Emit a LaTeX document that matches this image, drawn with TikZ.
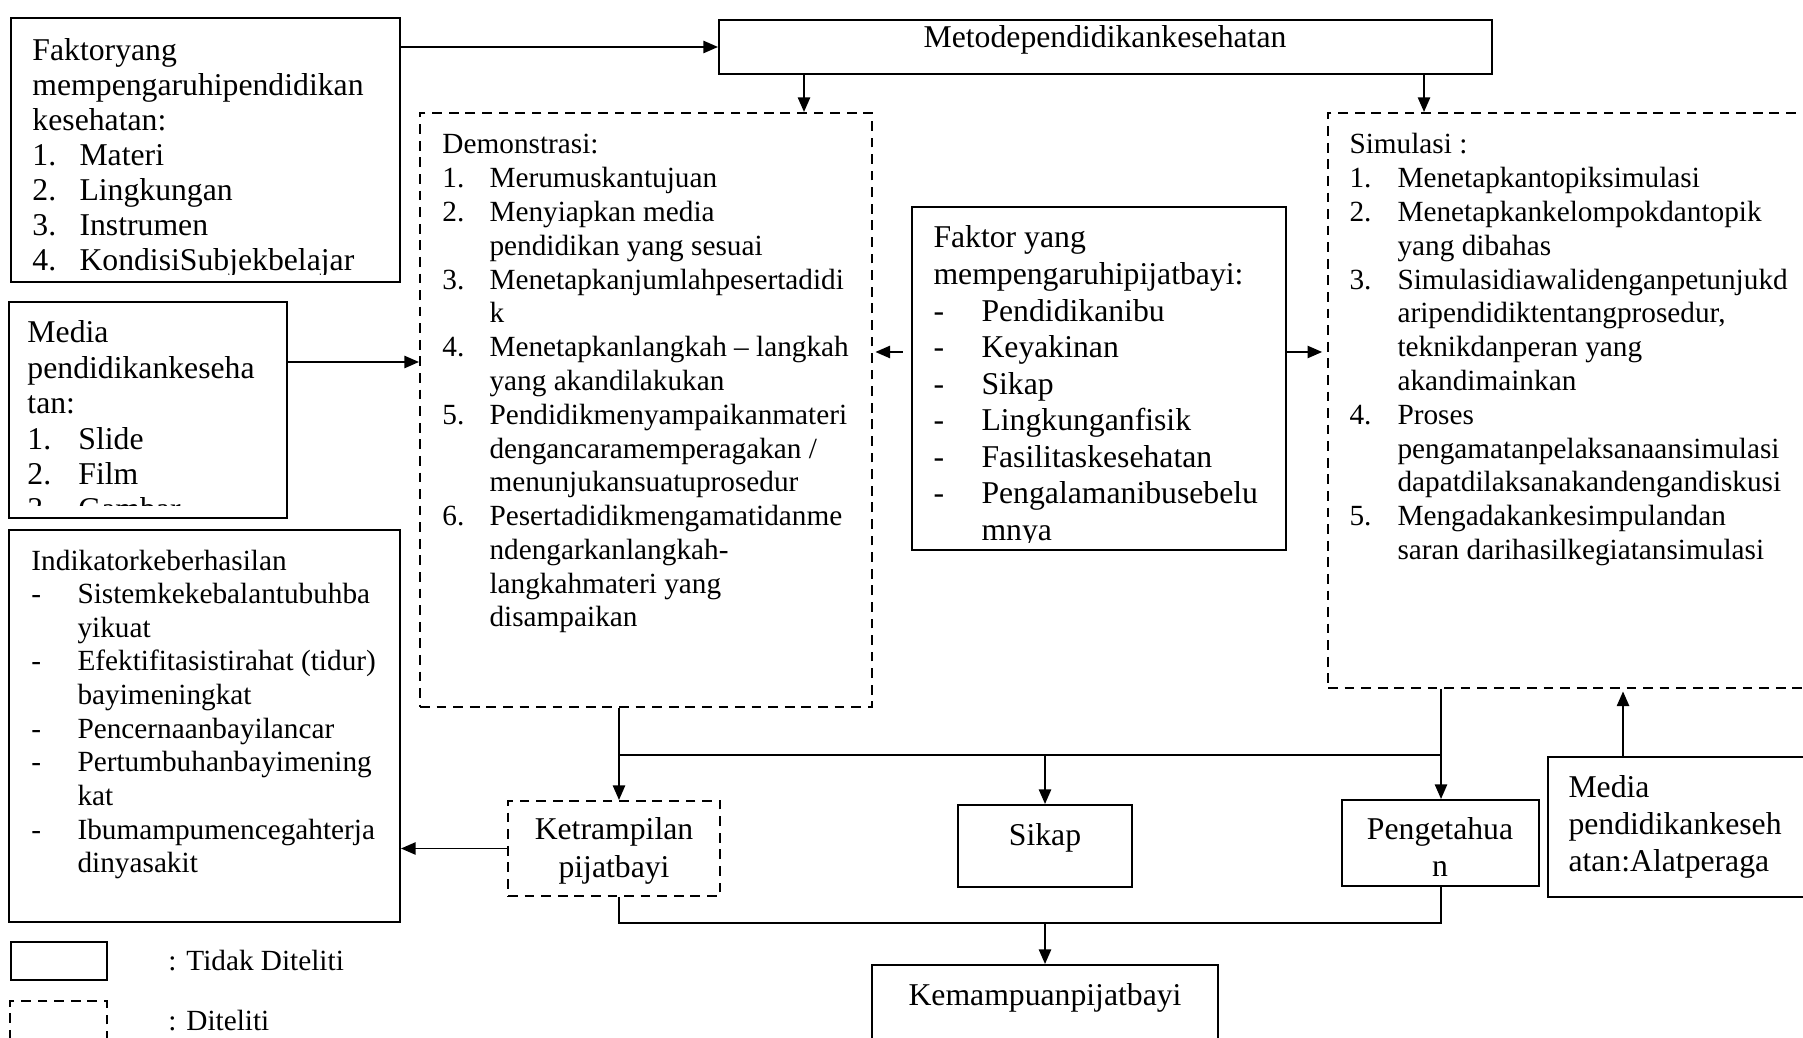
\documentclass[tikz,border=0pt]{standalone}
\usepackage{fontspec}
\setmainfont{Liberation Serif}
\usetikzlibrary{fit,arrows.meta}
\tikzset{bx/.style={draw, line width=0.8pt, inner sep=0pt},
        db/.style={bx, dash pattern=on 4pt off 2.8pt},
        tx/.style={anchor=base west, inner sep=0pt},
        tc/.style={anchor=base, inner sep=0pt},
        ln/.style={line width=0.8pt},
        ar/.style={ln, -{Triangle[length=6pt,width=5pt]}}}
\newcommand{\nr}[2][19.3pt]{\makebox[#1][l]{#2}}
\newcommand{\hs}[1][19.3pt]{\hspace*{#1}}
\newcommand{\fsa}{\fontsize{12}{13.85}\selectfont}
\newcommand{\fsb}{\fontsize{13}{15.6}\selectfont}
\begin{document}
\begin{tikzpicture}[x=0.41pt, y=-0.41pt]
\useasboundingbox (0,0) rectangle (1803,1038);
\clip (0,0) rectangle (1803,1038);

% kotak
\node[bx, fit={(11,18) (400,282)}] (fak) {};
\node[bx, fit={(719,20) (1492,74)}] (met) {};
\node[db, fit={(420,113) (872,707)}] (dem) {};
\node[db, fit={(1328,113) (1830,688)}] (sim) {};
\node[bx, fit={(912,207) (1286,550)}] (fpb) {};
\node[bx, fit={(9,302) (287,518)}] (med) {};
\node[bx, fit={(9,530) (400,922)}] (ind) {};
\node[db, fit={(508,801) (720,896)}] (ket) {};
\node[bx, fit={(958,805) (1132,887)}] (sik) {};
\node[bx, fit={(1342,800) (1539,886)}] (pen) {};
\node[bx, fit={(1548,757) (1830,897)}] (alat) {};
\node[bx, fit={(872,965) (1218,1060)}] (kem) {};
\node[bx, fit={(11,942) (107,980)}] (lg1) {};
\node[db, fit={(10,1001) (107,1060)}] (lg2) {};

% teks
\begin{scope}
  \clip (11,18) rectangle (400,275);
  \node[tx, font=\fontsize{13}{14.35}\selectfont] (faktxt) at (32,61) {\parbox[t]{300pt}{Faktoryang\\
    mempengaruhipendidikan\\ kesehatan:\\ \nr{1.}Materi\\ \nr{2.}Lingkungan\\ \nr{3.}Instrumen\\
    \nr{4.}KondisiSubjekbelajar}};
\end{scope}
\node[tc, font=\fsb] (mettxt) at (1105,48) {Metodependidikankesehatan};
\begin{scope}
  \clip (9,302) rectangle (287,505);
  \node[tx, font=\fontsize{13}{14.5}\selectfont] (medtxt) at (27,343) {\parbox[t]{300pt}{Media\\
    pendidikankeseha\\ tan:\\ \nr[20.9pt]{1.}Slide\\ \nr[20.9pt]{2.}Film\\ \nr[20.9pt]{3.}Gambar}};
\end{scope}
\node[tx, font=\fsa] (demtxt) at (442,154) {\parbox[t]{300pt}{Demonstrasi:\\
  \nr{1.}Merumuskantujuan\\
  \nr{2.}Menyiapkan media\\ \hs pendidikan yang sesuai\\
  \nr{3.}Menetapkanjumlahpesertadidi\\ \hs k\\
  \nr{4.}Menetapkanlangkah – langkah\\ \hs yang akandilakukan\\
  \nr{5.}Pendidikmenyampaikanmateri\\ \hs dengancaramemperagakan /\\ \hs menunjukansuatuprosedur\\
  \nr{6.}Pesertadidikmengamatidanme\\ \hs ndengarkanlangkah-\\ \hs langkahmateri yang\\ \hs disampaikan}};
\begin{scope}
  \clip (912,207) rectangle (1286,542);
  \node[tx, font=\fontsize{13}{14.97}\selectfont] (fpbtxt) at (933,248) {\parbox[t]{300pt}{Faktor yang\\
    mempengaruhipijatbayi:\\ \nr[19.7pt]{-}Pendidikanibu\\ \nr[19.7pt]{-}Keyakinan\\ \nr[19.7pt]{-}Sikap\\
    \nr[19.7pt]{-}Lingkunganfisik\\ \nr[19.7pt]{-}Fasilitaskesehatan\\ \nr[19.7pt]{-}Pengalamanibusebelu\\
    \hs[19.7pt]mnya}};
\end{scope}
\node[tx, font=\fsa] (simtxt) at (1349,154) {\parbox[t]{300pt}{Simulasi :\\
  \nr[19.7pt]{1.}Menetapkantopiksimulasi\\
  \nr[19.7pt]{2.}Menetapkankelompokdantopik\\ \hs[19.7pt]yang dibahas\\
  \nr[19.7pt]{3.}Simulasidiawalidenganpetunjukd\\ \hs[19.7pt]aripendidiktentangprosedur,\\
  \hs[19.7pt]teknikdanperan yang\\ \hs[19.7pt]akandimainkan\\
  \nr[19.7pt]{4.}Proses\\ \hs[19.7pt]pengamatanpelaksanaansimulasi\\ \hs[19.7pt]dapatdilaksanakandengandiskusi\\
  \nr[19.7pt]{5.}Mengadakankesimpulandan\\ \hs[19.7pt]saran darihasilkegiatansimulasi}};
\node[tx, font=\fontsize{12}{13.8}\selectfont] (indtxt) at (31,570) {\parbox[t]{300pt}{Indikatorkeberhasilan\\
  \nr[18.9pt]{-}Sistemkekebalantubuhba\\ \hs[18.9pt]yikuat\\
  \nr[18.9pt]{-}Efektifitasistirahat (tidur)\\ \hs[18.9pt]bayimeningkat\\
  \nr[18.9pt]{-}Pencernaanbayilancar\\
  \nr[18.9pt]{-}Pertumbuhanbayimening\\ \hs[18.9pt]kat\\
  \nr[18.9pt]{-}Ibumampumencegahterja\\ \hs[18.9pt]dinyasakit}};
\node[tc, font=\fsb] (kettxt) at (614,839) {\parbox[t]{90pt}{\centering Ketrampilan\\ pijatbayi}};
\node[tc, font=\fsb] (siktxt) at (1045,845) {Sikap};
\node[tc, font=\fontsize{13}{15.2}\selectfont] (pentxt) at (1440,839) {\parbox[t]{90pt}{\centering Pengetahua\\ n}};
\node[tx, font=\fontsize{13}{15.2}\selectfont] (alattxt) at (1568,797) {\parbox[t]{150pt}{Media\\
  pendidikankeseh\\ atan:Alatperaga}};
\node[tc, font=\fsb] (kemtxt) at (1045,1005) {Kemampuanpijatbayi};
\node[tx, font=\fsa] (lg1txt) at (168,970) {: Tidak Diteliti};
\node[tx, font=\fsa] (lg2txt) at (168,1030) {: Diteliti};

% panah
\coordinate (p1) at (804,0);
\coordinate (p2) at (1424,0);
\coordinate (q1) at (0,352);
\coordinate (q2) at (0,362);
\coordinate (j1) at (619,755);
\coordinate (j2) at (1441,755);
\coordinate (j3) at (619,923);
\coordinate (j4) at (1441,923);
\coordinate (r1) at (1623,0);
\draw[ar] (fak.east |- met.west) -- (met.west);
\draw[ar] (met.south -| p1) -- (dem.north -| p1);
\draw[ar] (met.south -| p2) -- (sim.north -| p2);
\draw[ar, shorten <=3.5pt, shorten >=1pt] (fpb.west |- q1) -- (dem.east |- q1);
\draw[ar, shorten >=2pt] (fpb.east |- q1) -- (sim.west |- q1);
\draw[ar] (med.east |- q2) -- (dem.west |- q2);
\draw[ln] (dem.south -| j1) -- (j1) -- (j2);
\draw[ar] (j1) -- (ket.north -| j1);
\draw[ar] (sim.south -| j2) -- (pen.north -| j2);
\draw[ar] (sik.north |- j1) -- (sik.north);
\draw[ln] (ket.south -| j3) -- (j3) -- (j4) -- (pen.south -| j4);
\draw[ar] (kem.north |- j3) -- (kem.north);
\draw[ar] (ket.west) -- (ind.east |- ket.west);
\draw[ar, shorten >=1pt] (alat.north -| r1) -- (sim.south -| r1);
\end{tikzpicture}
\end{document}
